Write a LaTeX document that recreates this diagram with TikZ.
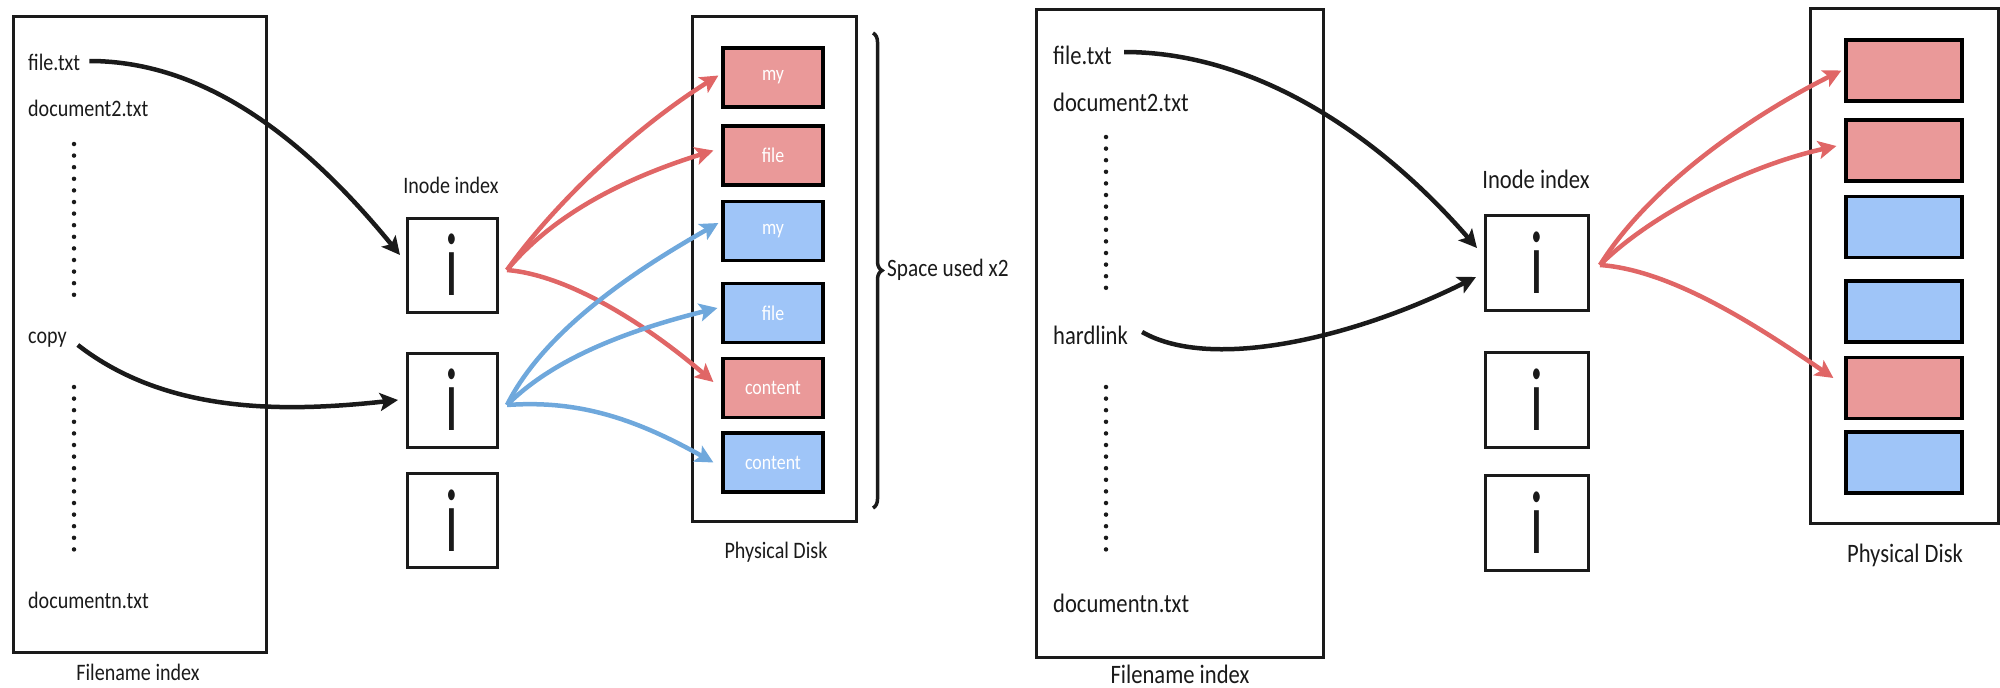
\documentclass[tikz,border=0pt]{standalone}
\usepackage{fontspec}
\setmainfont{Carlito}[FakeStretch=0.85]
\newfontfamily\glyphfont{Carlito}
\usetikzlibrary{arrows.meta,decorations.pathreplacing,calc}
\definecolor{redfill}{HTML}{EA9999}
\definecolor{bluefill}{HTML}{9FC5F8}
\definecolor{redarr}{HTML}{E06666}
\definecolor{bluearr}{HTML}{6FA8DC}
\definecolor{ink}{HTML}{1A1A1A}
\begin{document}
\begin{tikzpicture}[x=1pt,y=-1pt,
  frame/.style={draw=ink,line width=3pt,inner sep=0pt,outer sep=0pt},
  inodeL/.style={frame,minimum width=90pt,minimum height=94pt},
  inodeR/.style={frame,minimum width=103pt,minimum height=95pt},
  glyph/.style={inner sep=0pt,text=ink},
  lblL/.style={text=ink,inner sep=0pt,font=\fontsize{23.6}{28}\selectfont},
  lblR/.style={text=ink,inner sep=0pt,font=\fontsize{26.6}{31}\selectfont},
  blk/.style={draw=black,line width=3.2pt,inner sep=0pt,text=white},
  blkL/.style={blk,minimum width=100pt,minimum height=59pt,font=\fontsize{21}{24}\selectfont},
  blkR/.style={blk,minimum width=116pt,minimum height=61pt},
  redblk/.style={fill=redfill},
  blueblk/.style={fill=bluefill},
  dotcol/.style={draw=ink,line width=4.5pt,line cap=round,dash pattern=on 0pt off 11.6pt},
  blackarr/.style={draw=ink,line width=4.5pt,-{Stealth[length=18pt,width=18pt,inset=4pt]}},
  redarrow/.style={draw=redarr,line width=4.5pt,-{Stealth[length=18pt,width=18pt,inset=4pt]}},
  bluearrow/.style={draw=bluearr,line width=4.5pt,-{Stealth[length=18pt,width=18pt,inset=4pt]}}
]
\useasboundingbox (0,0) rectangle (2000,688);
\newcommand{\inodeglyph}{\scalebox{1}[1.6]{\glyphfont\fontsize{56}{56}\selectfont i}}

%%%%%%%%%%%%%%%% LEFT PANEL %%%%%%%%%%%%%%%%
\node[frame,minimum width=253pt,minimum height=636pt] (lfn) at (139.5,334) {};
\node[lblL,anchor=west] (lf1) at (28,62) {file.txt};
\node[lblL,anchor=west] (lf2) at (28,108) {document2.txt};
\node[lblL,anchor=west] (lf3) at (28,340) {copy};
\node[lblL,anchor=west] (lf4) at (28,600) {documentn.txt};
\draw[dotcol] (74,144) -- (74,296);
\draw[dotcol] (74,387) -- (74,550);
\node[lblL] (lfnlbl) at (138,672) {Filename index};

\node[lblL] (linlbl) at (451,185) {Inode index};
\node[inodeL] (lib1) at (452,265) {};
\node[inodeL] (lib2) at (452,400) {};
\node[inodeL] (lib3) at (452,520.5) {};
\node[glyph] at (lib1) {\inodeglyph};
\node[glyph] at (lib2) {\inodeglyph};
\node[glyph] at (lib3) {\inodeglyph};

\node[frame,minimum width=164pt,minimum height=505pt] (ldisk) at (774,268.5) {};
\node[blkL,redblk] (lblk1) at (773,77.5) {my};
\node[blkL,redblk] (lblk2) at (773,155.5) {file};
\node[blkL,blueblk] (lblk3) at (773,231) {my};
\node[blkL,blueblk] (lblk4) at (773,313) {file};
\node[blkL,redblk] (lblk5) at (773,388) {content};
\node[blkL,blueblk] (lblk6) at (773,462.5) {content};
\node[lblL] (ldisklbl) at (776,552) {Physical Disk};

\coordinate (brtop) at (873,33);
\coordinate (brbot) at (873,508);
\draw[ink,line width=3.5pt,decorate,decoration={brace,amplitude=9pt}] (brtop) -- (brbot);
\node[text=ink,inner sep=0pt,anchor=west,font=\fontsize{25}{29}\selectfont] (space) at (887,270) {Space used x2};

% left arrows
\draw[blackarr] ($(lf1.east)+(9,-1)$) .. controls +(120,0) and +(-90,-110) .. ($(lib1.west)+(-7,-10)$);
\draw[blackarr] ($(lf3.east)+(11,5)$) .. controls +(90,70) and +(-110,12) .. ($(lib2.west)+(-9,0)$);

\draw[redarrow] ($(lib1.east)+(10,5)$) .. controls +(50,-70) and +(-80,50) .. ($(lblk1.west)+(-3,-2)$);
\draw[redarrow] ($(lib1.east)+(10,5)$) .. controls +(50,-60) and +(-80,25) .. ($(lblk2.west)+(-8,-5)$);
\draw[redarrow] ($(lib1.east)+(10,5)$) .. controls +(60,5) and +(-70,-60) .. ($(lblk5.west)+(-8,-6)$);

\draw[bluearrow] ($(lib2.east)+(10,5)$) .. controls +(40,-80) and +(-70,40) .. ($(lblk3.west)+(-3,-8)$);
\draw[bluearrow] ($(lib2.east)+(10,5)$) .. controls +(50,-50) and +(-80,20) .. ($(lblk4.west)+(-4,-5)$);
\draw[bluearrow] ($(lib2.east)+(10,5)$) .. controls +(70,-5) and +(-80,-45) .. ($(lblk6.west)+(-8,0)$);

%%%%%%%%%%%%%%%% RIGHT PANEL %%%%%%%%%%%%%%%%
\node[frame,minimum width=287pt,minimum height=648pt] (rfn) at (1179.5,333) {};
\node[lblR,anchor=west] (rf1) at (1053,55) {file.txt};
\node[lblR,anchor=west] (rf2) at (1053,102) {document2.txt};
\node[lblR,anchor=west] (rf3) at (1053,335) {hardlink};
\node[lblR,anchor=west] (rf4) at (1053,603) {documentn.txt};
\draw[dotcol] (1106,137) -- (1106,293);
\draw[dotcol] (1106,387) -- (1106,553);
\node[lblR] (rfnlbl) at (1180,674) {Filename index};

\node[lblR] (rinlbl) at (1536,179) {Inode index};
\node[inodeR] (rib1) at (1536.5,262.5) {};
\node[inodeR] (rib2) at (1536.5,400) {};
\node[inodeR] (rib3) at (1536.5,522.5) {};
\node[glyph] at (rib1) {\inodeglyph};
\node[glyph] at (rib2) {\inodeglyph};
\node[glyph] at (rib3) {\inodeglyph};

\node[frame,minimum width=188pt,minimum height=515pt] (rdisk) at (1904,265.5) {};
\node[blkR,redblk] (rblk1) at (1904,70.5) {};
\node[blkR,redblk] (rblk2) at (1904,150.5) {};
\node[blkR,blueblk] (rblk3) at (1904,227) {};
\node[blkR,blueblk] (rblk4) at (1904,311.5) {};
\node[blkR,redblk] (rblk5) at (1904,388) {};
\node[blkR,blueblk] (rblk6) at (1904,462.5) {};
\node[lblR] (rdisklbl) at (1905,555) {Physical Disk};

% right arrows
\draw[blackarr] ($(rf1.east)+(12,-3)$) .. controls +(130,0) and +(-100,-115) .. ($(rib1.west)+(-8,-14.5)$);
\draw[blackarr] ($(rf3.east)+(14,-3)$) .. controls +(70,40) and +(-120,60) .. ($(rib1.west)+(-9,14.5)$);

\draw[redarrow] ($(rib1.east)+(12,2.5)$) .. controls +(50,-80) and +(-90,45) .. ($(rblk1.west)+(-3,0)$);
\draw[redarrow] ($(rib1.east)+(12,2.5)$) .. controls +(50,-50) and +(-90,20) .. ($(rblk2.west)+(-8,-4.5)$);
\draw[redarrow] ($(rib1.east)+(12,2.5)$) .. controls +(70,5) and +(-80,-55) .. ($(rblk5.west)+(-11,-10)$);
\end{tikzpicture}
\end{document}
